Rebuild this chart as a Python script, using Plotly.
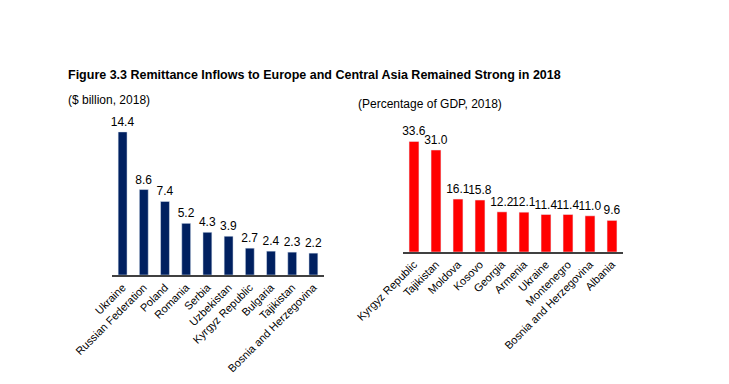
import plotly.graph_objects as go

left_countries = ["Ukraine", "Russian Federation", "Poland", "Romania", "Serbia",
                  "Uzbekistan", "Kyrgyz Republic", "Bulgaria", "Tajikistan",
                  "Bosnia and Herzegovina"]
left_values = [14.4, 8.6, 7.4, 5.2, 4.3, 3.9, 2.7, 2.4, 2.3, 2.2]

right_countries = ["Kyrgyz Republic", "Tajikistan", "Moldova", "Kosovo", "Georgia",
                   "Armenia", "Ukraine", "Montenegro", "Bosnia and Herzegovina", "Albania"]
right_values = [33.6, 31.0, 16.1, 15.8, 12.2, 12.1, 11.4, 11.4, 11.0, 9.6]

W, H = 729, 384
FONT = "Liberation Sans"
OX, OY = 8, 8  # page offset compensation


def px(x):
    return (x - OX) / W


def py(y):
    return 1 - (y - OY) / H


fig = go.Figure()
fig.add_trace(go.Bar(
    x=left_countries, y=left_values, xaxis="x", yaxis="y",
    marker_color="#002060", width=0.42,
    text=[f"{v:.1f}" for v in left_values], textposition="outside", constraintext="none",
    textfont=dict(size=12, color="#000000", family=FONT), cliponaxis=False,
))
fig.add_trace(go.Bar(
    x=right_countries, y=right_values, xaxis="x2", yaxis="y2",
    marker_color="#FF0000", width=0.45,
    text=[f"{v:.1f}" for v in right_values], textposition="outside", constraintext="none",
    textfont=dict(size=12, color="#000000", family=FONT), cliponaxis=False,
))

axis_common = dict(showgrid=False, zeroline=False, showline=True, linecolor="#404040",
                   linewidth=1.5, tickangle=-45, ticks="", range=[-0.5, 9.5], automargin=False,
                   tickfont=dict(size=11, color="#000000", family=FONT))
yaxis_common = dict(visible=False, showgrid=False, zeroline=False, automargin=False)

fig.update_layout(
    width=W, height=H, margin=dict(l=0, r=0, t=0, b=0, autoexpand=False),
    paper_bgcolor="white", plot_bgcolor="white", showlegend=False,
    xaxis=dict(domain=[px(112), px(324)], anchor="y", **axis_common),
    yaxis=dict(domain=[py(275), py(116)], range=[0, 16], anchor="x", **yaxis_common),
    xaxis2=dict(domain=[px(403), px(623)], anchor="y2", **axis_common),
    yaxis2=dict(domain=[py(252), py(127)], range=[0, 38], anchor="x2", **yaxis_common),
    annotations=[
        dict(text="<b>Figure 3.3 Remittance Inflows to Europe and Central Asia Remained Strong in 2018</b>",
             x=px(66), y=py(75), xref="paper", yref="paper", xanchor="left", yanchor="middle",
             showarrow=False, font=dict(size=12.5, color="#000000", family=FONT)),
        dict(text="($ billion, 2018)", x=px(66), y=py(100), xref="paper", yref="paper",
             xanchor="left", yanchor="middle", showarrow=False,
             font=dict(size=12, color="#000000", family=FONT)),
        dict(text="(Percentage of GDP, 2018)", x=px(356), y=py(104), xref="paper", yref="paper",
             xanchor="left", yanchor="middle", showarrow=False,
             font=dict(size=12, color="#000000", family=FONT)),
    ],
)

fig.write_html("out.html")
